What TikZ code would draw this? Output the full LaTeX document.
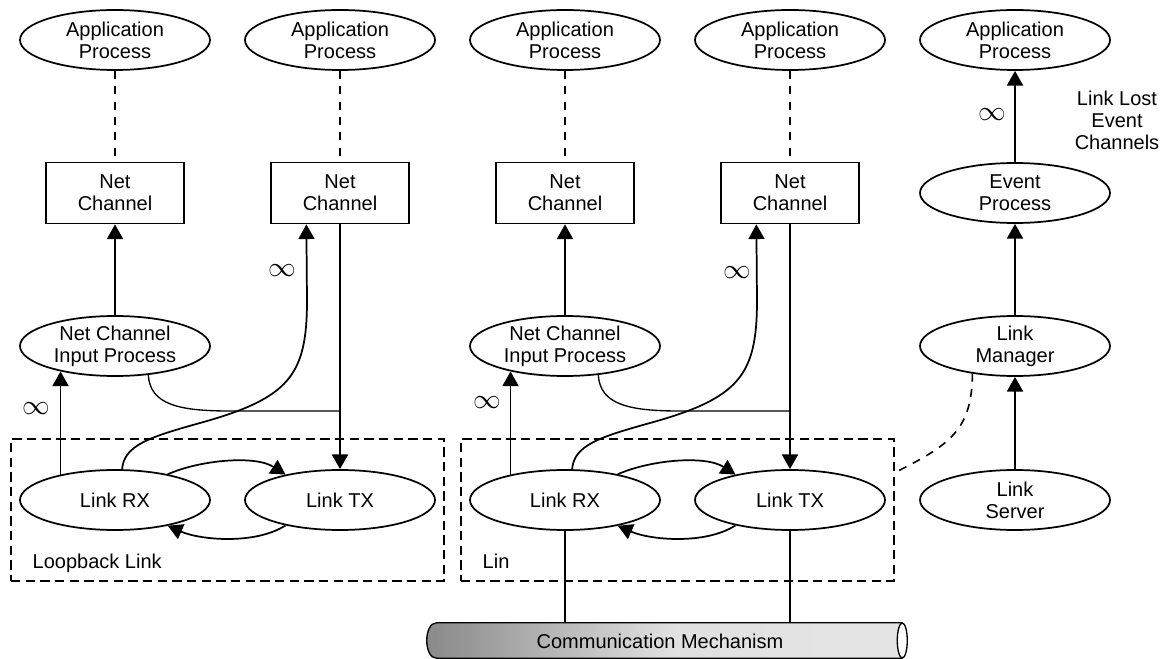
\documentclass[tikz,border=0pt]{standalone}
\usepackage{fontspec}
\setmainfont{Liberation Sans}
\usetikzlibrary{shapes.geometric,arrows.meta}

\tikzset{
  proc/.style={ellipse, draw, line width=1.3pt, minimum width=142.5pt, minimum height=45pt, inner sep=0pt, align=center},
  chan/.style={rectangle, draw, line width=1.3pt, minimum width=103.5pt, minimum height=45.75pt, inner sep=0pt, align=center},
  flow/.style={line width=1.3pt, -{Triangle[length=11pt,width=12pt]}},
  wire/.style={line width=1pt},
  assoc/.style={line width=1.2pt, dash pattern=on 6pt off 5.5pt},
  linkbox/.style={draw, line width=1.1pt, dash pattern=on 7pt off 4pt, minimum width=324.75pt, minimum height=106.5pt, inner sep=0pt},
  pipe/.style={rectangle, inner sep=0pt, minimum width=348.75pt, minimum height=26.25pt, left color=black!45, right color=black!10, middle color=black!12},
  infty/.style={font=\fontsize{21}{21}\selectfont},
}

\begin{document}
\begin{tikzpicture}[x=0.75pt, y=-0.75pt, font=\fontsize{15}{16.5}\selectfont]
    \useasboundingbox (0,0) rectangle (1164,659);

    % loopback link
    \node[linkbox] (lb1) at (227.5,510) {};
    \node[anchor=base west] (lbl1) at (28,568) {Loopback Link};

    \node[proc] (apa1) at (115,40) {Application\\Process};
    \node[proc] (apb1) at (340,40) {Application\\Process};
    \node[chan] (nca1) at (115,193) {Net\\Channel};
    \node[chan] (ncb1) at (340,193) {Net\\Channel};
    \node[proc] (ip1) at (115,346) {Net Channel\\Input Process};
    \node[proc] (rx1) at (115,500) {Link RX};
    \node[proc] (tx1) at (340,500) {Link TX};
    \coordinate (j1) at (340,411);

    \draw[assoc] (apa1.south) -- (nca1.north);
    \draw[assoc] (apb1.south) -- (ncb1.north);
    \draw[flow] (ip1.north) -- (nca1.south);
    \draw[flow] (ncb1.south) -- (tx1.north);
    \draw[wire] (ip1.-41) .. controls (150,405) and (180,411) .. (230,411) -- (j1);
    \draw[flow] (rx1.77) .. controls (124,445) and (150,437) .. (200,423)
        .. controls (290,398) and (307,375) .. (307,300) -- (ncb1.-137);
    \draw[flow] (rx1.155) -- (ip1.205);
    \draw[flow] (rx1.26) .. controls (200,460) and (255,455) .. (tx1.155);
    \draw[flow] (tx1.205) .. controls (255,545) and (200,540) .. (rx1.-26);

    \node[infty] (inf1) at (36,409) {$\infty$};
    \node[infty] (inf2) at (282,271) {$\infty$};

    % lin
    \node[linkbox] (lb2) at (677.5,510) {};
    \node[anchor=base west] (lbl2) at (478,568) {Lin};

    \node[proc] (apa2) at (565,40) {Application\\Process};
    \node[proc] (apb2) at (790,40) {Application\\Process};
    \node[chan] (nca2) at (565,193) {Net\\Channel};
    \node[chan] (ncb2) at (790,193) {Net\\Channel};
    \node[proc] (ip2) at (565,346) {Net Channel\\Input Process};
    \node[proc] (rx2) at (565,500) {Link RX};
    \node[proc] (tx2) at (790,500) {Link TX};
    \coordinate (j2) at (790,411);

    \draw[assoc] (apa2.south) -- (nca2.north);
    \draw[assoc] (apb2.south) -- (ncb2.north);
    \draw[flow] (ip2.north) -- (nca2.south);
    \draw[flow] (ncb2.south) -- (tx2.north);
    \draw[wire] (ip2.-41) .. controls (600,405) and (630,411) .. (680,411) -- (j2);
    \draw[flow] (rx2.77) .. controls (574,445) and (600,437) .. (650,423)
        .. controls (740,398) and (757,375) .. (757,300) -- (ncb2.-137);
    \draw[flow] (rx2.155) -- (ip2.205);
    \draw[flow] (rx2.26) .. controls (650,460) and (705,455) .. (tx2.155);
    \draw[flow] (tx2.205) .. controls (705,545) and (650,540) .. (rx2.-26);

    \node[infty] (inf3) at (487,403) {$\infty$};
    \node[infty] (inf4) at (737,273) {$\infty$};

    % link manager side
    \node[proc] (apc) at (1015,40) {Application\\Process};
    \node[proc] (ev) at (1015,193) {Event\\Process};
    \node[proc] (lm) at (1015,346) {Link\\Manager};
    \node[proc] (ls) at (1015,500) {Link\\Server};
    \node[align=center] (lost) at (1117,120) {Link Lost\\Event\\Channels};
    \node[infty] (inf5) at (992,115) {$\infty$};
    \coordinate (lbx) at (894,473);

    \draw[flow] (ev.north) -- (apc.south);
    \draw[flow] (lm.north) -- (ev.south);
    \draw[flow] (ls.north) -- (lm.south);
    \draw[assoc] (lm.213) .. controls (972,430) and (950,445) .. (lbx);

    % communication mechanism
    \node[pipe] (cm) at (669.5,640.5) {};
    \fill[black!45] (cm.north west) .. controls +(-13.3,0) and +(-13.3,0) .. (cm.south west) -- cycle;
    \draw[wire] (cm.north east) -- (cm.north west) .. controls +(-13.3,0) and +(-13.3,0) .. (cm.south west) -- (cm.south east);
    \draw[wire, fill=white] (cm.east) ellipse [x radius=5, y radius=17.5];
    \node (cmtext) at (660,641) {Communication Mechanism};
    \draw[wire] (rx2.south) -- (rx2.south |- cm.north);
    \draw[wire] (tx2.south) -- (tx2.south |- cm.north);
\end{tikzpicture}
\end{document}
